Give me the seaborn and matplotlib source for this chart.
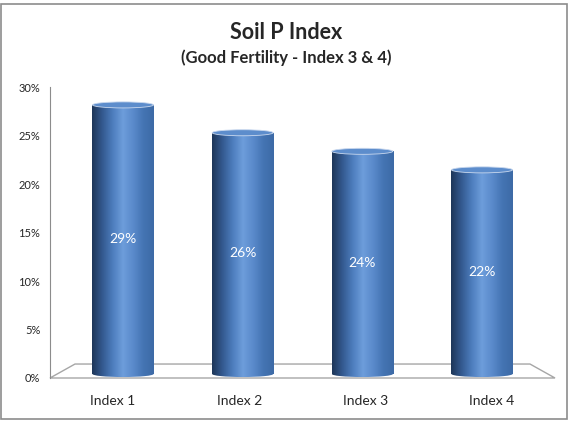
import numpy as np
import matplotlib
matplotlib.use("Agg")
import matplotlib.pyplot as plt
import seaborn as sns
from matplotlib.colors import LinearSegmentedColormap
from matplotlib.patches import Ellipse, Polygon, Rectangle

# data
categories = ["Index 1", "Index 2", "Index 3", "Index 4"]
share_pct = [29, 26, 24, 22]
y_ticks = [0, 5, 10, 15, 20, 25, 30]

sns.set_style("white")
plt.rcParams["font.family"] = ["Lato", "DejaVu Sans"]

fig = plt.figure(figsize=(5.70, 4.22), dpi=100)
rect = [50 / 570, 44 / 422, 505 / 570, 291 / 422]
ax = fig.add_axes(rect)

# visible value axis (back wall scale), category labels on the front edge
ax.set_xlim(-0.5, 3.5)
ax.set_ylim(0, 30)
ax.set_yticks(y_ticks)
ax.set_yticklabels([f"{t}%" for t in y_ticks], fontsize=8)
ax.set_xticks(range(len(categories)))
ax.set_xticklabels(categories, fontsize=10)
for s in ["top", "right", "bottom"]:
    ax.spines[s].set_visible(False)
ax.spines["left"].set_color("#8c8c8c")
ax.tick_params(axis="y", direction="out", length=4, color="#8c8c8c", pad=3)
ax.tick_params(axis="x", length=0, pad=12)

# floor of the 3d plot
floor = Polygon([(0, 0), (0.0495, 0.048), (0.9505, 0.048), (1, 0)],
                closed=True, fill=False, edgecolor="#a6a6a6", lw=1,
                transform=ax.transAxes, clip_on=False)
ax.add_patch(floor)

# bars live on an overlaid axes (mid-depth plane of the 3d view)
ax3d = fig.add_axes(rect)
ax3d.patch.set_visible(False)
sns.barplot(x=categories, y=share_pct, ax=ax3d, width=0.51,
            color="#4f81bd", linewidth=0)
ax3d.axis("off")

cyl = LinearSegmentedColormap.from_list(
    "cyl", ["#1e3658", "#33598f", "#4d7dbd", "#6d9ddb", "#5a8acb",
            "#4474b3", "#3d6aa6"])
grad = np.linspace(0, 1, 256).reshape(1, -1)
cap_h = 0.65

for bar, v in zip(ax3d.patches, share_pct):
    x0 = bar.get_x()
    w = bar.get_width()
    h = bar.get_height()
    xc = x0 + w / 2
    bar.set_facecolor("none")
    im = ax3d.imshow(grad, cmap=cyl, aspect="auto",
                     extent=(x0, x0 + w, 0, h), zorder=2)
    im.set_clip_path(bar)
    bottom = Ellipse((xc, 0), w, cap_h, facecolor="none", edgecolor="none")
    ax3d.add_patch(bottom)
    im2 = ax3d.imshow(grad, cmap=cyl, aspect="auto",
                      extent=(x0, x0 + w, -cap_h / 2, 0), zorder=2)
    im2.set_clip_path(bottom)
    top = Ellipse((xc, h), w, cap_h, facecolor="#5d8dcc",
                  edgecolor="#c9d8ee", lw=0.6, zorder=3)
    ax3d.add_patch(top)
    ax3d.text(xc, h / 2, f"{v}%", ha="center", va="center",
              color="white", fontsize=10, zorder=4)

ax3d.set_xlim(-0.61, 3.61)
ax3d.set_ylim(-0.43, 30.93)

fig.text(0.502, 0.922, "Soil P Index", ha="center", va="center",
         fontsize=15.5, fontweight="bold")
fig.text(0.503, 0.864, "(Good Fertility - Index 3 & 4)", ha="center",
         va="center", fontsize=12, fontweight="bold")

fig.add_artist(Rectangle((0.002, 0.006), 0.993, 0.984,
                         transform=fig.transFigure, fill=False,
                         edgecolor="#8c8c8c", lw=1.2))

fig.savefig("out.png", dpi=100)
